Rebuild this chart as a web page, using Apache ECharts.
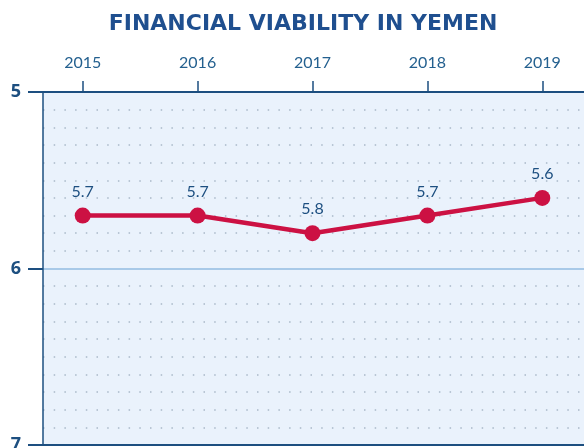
<!DOCTYPE html>
<html>
<head>
<meta charset="utf-8">
<script src="https://cdn.jsdelivr.net/npm/echarts@6/dist/echarts.min.js"></script>
<style>html,body{margin:0;padding:0;background:#fff;}#c{width:584px;height:448px;}</style>
</head>
<body>
<div id="c"></div>
<script>
const titleText = 'FINANCIAL VIABILITY IN YEMEN';
const years = [2015, 2016, 2017, 2018, 2019];
const scores = [5.7, 5.7, 5.8, 5.7, 5.6];
const yTicks = [5, 6, 7];

const navy = '#1d4f80';
const chart = echarts.init(document.getElementById('c'), null, {renderer: 'canvas'});
chart.setOption({
  animation: false,
  title: {
    text: titleText, left: 298, top: 8, textAlign: 'center',
    textStyle: {fontFamily: 'DejaVu Sans', fontWeight: 'bold', fontSize: 22, color: '#1f4f8f'}
  },
  grid: {left: 43, right: 0, top: 92, bottom: 3, outerBoundsMode: 'none', containLabel: false,
    show: true, backgroundColor: '#eaf2fc', borderWidth: 0},
  xAxis: {
    type: 'value', position: 'top', min: 2014.6545, max: 2019.363,
    axisLine: {show: true, lineStyle: {color: navy, width: 1.5}},
    axisTick: {show: true, customValues: years, length: 11, inside: false, lineStyle: {color: navy, width: 1.5}},
    axisLabel: {customValues: years, margin: 21, color: '#24608f', fontFamily: 'Lato', fontSize: 16, formatter: v => String(v)},
    splitLine: {show: false}
  },
  yAxis: {
    type: 'value', inverse: true, min: 5, max: 7, interval: 1,
    axisLine: {show: true, onZero: false, lineStyle: {color: navy, width: 1.5}},
    axisTick: {show: true, length: 15, lineStyle: {color: navy, width: 2}},
    axisLabel: {margin: 22, color: navy, fontFamily: 'Open Sans', fontWeight: 'bold', fontSize: 18,
      formatter: v => yTicks.includes(v) ? String(v) : ''},
    splitLine: {show: true, lineStyle: {color: ['#1d4f80', '#a8c9e8', '#1d4f80'], width: 2}},
    minorTick: {show: false, splitNumber: 10},
    minorSplitLine: {show: true, lineStyle: {color: '#a9b8c8', width: 1.5, type: [1.5, 9.2]}}
  },
  series: [{
    type: 'line',
    data: years.map((y, i) => [y, scores[i]]),
    symbol: 'circle', symbolSize: 16,
    lineStyle: {color: '#cc1143', width: 4.5},
    itemStyle: {color: '#cc1143'},
    label: {show: true, position: 'top', distance: 8, color: navy, fontFamily: 'Lato', fontSize: 16,
      formatter: p => p.value[1].toFixed(1)},
    z: 5
  }]
});
</script>
</body>
</html>
